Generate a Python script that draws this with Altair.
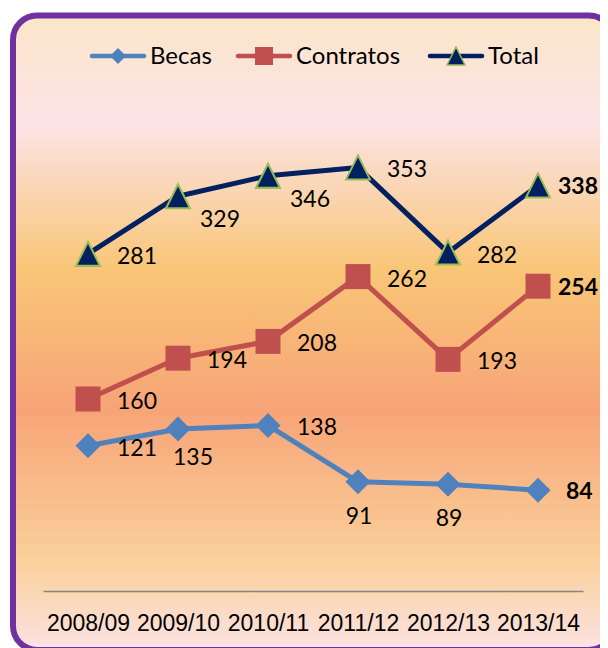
import altair as alt
import pandas as pd

# ---- data ----
years = ["2008/09", "2009/10", "2010/11", "2011/12", "2012/13", "2013/14"]
series_names = ["Becas", "Contratos", "Total"]
becas = [121, 135, 138, 91, 89, 84]
contratos = [160, 194, 208, 262, 193, 254]
total = [281, 329, 346, 353, 282, 338]

# ---- styles ----
colors = ["#4F81BD", "#C0504D", "#002060"]
TRI = "M0,-1L1,1L-1,1Z"
marker_shapes = ["diamond", "square", TRI]
marker_sizes_legend = [256, 324, 324]
# legend item layout (pixels, relative to the plot origin)
legend_line_x = [47, 193, 385]
legend_line_len = 56
legend_label_gap = 4
legend_y = -55

rows = []
for name, vals in zip(series_names, [becas, contratos, total]):
    for yr, v in zip(years, vals):
        rows.append({"year": yr, "series": name, "value": v})
df = pd.DataFrame(rows)

color_scale = alt.Scale(domain=series_names, range=colors)

x_enc = alt.X(
    "year:N",
    sort=years,
    axis=alt.Axis(
        title=None,
        labelAngle=0,
        labelFont="Liberation Sans",
        labelFontSize=23,
        labelColor="#000000",
        labelPadding=21,
        ticks=False,
        tickSize=0,
        domainColor="#868686",
        domainWidth=1.5,
        grid=False,
        labelOverlap=False,
        zindex=1,
    ),
)
y_enc = alt.Y("value:Q", scale=alt.Scale(domain=[0, 400], nice=False), axis=None)

base = alt.Chart(df).encode(x=x_enc, y=y_enc)

# background panel with gradient and purple rounded border
bg = alt.Chart(alt.Data(values=[{"k": 0}])).mark_rect(
    fill=alt.LinearGradient(
        gradient="linear",
        x1=0, x2=0, y1=0, y2=1,
        stops=[
            alt.GradientStop(color="#FBE6C9", offset=0.0),
            alt.GradientStop(color="#FCE3E6", offset=0.17),
            alt.GradientStop(color="#F9C677", offset=0.40),
            alt.GradientStop(color="#F7A477", offset=0.62),
            alt.GradientStop(color="#FAD09B", offset=0.86),
            alt.GradientStop(color="#FCE3E4", offset=1.0),
        ],
    ),
    stroke="#7030A0",
    strokeWidth=6,
    cornerRadius=24,
).encode(x=alt.value(-30), x2=alt.value(570), y=alt.value(-95.5), y2=alt.value(539))

lines = base.mark_line(strokeWidth=5, strokeJoin="round").encode(
    stroke=alt.Stroke("series:N", scale=color_scale, legend=None),
    detail="series:N",
)

points = base.mark_point(filled=True, opacity=1, size=625, strokeWidth=0).encode(
    color=alt.Color("series:N", scale=color_scale, legend=None),
    shape=alt.Shape(
        "series:N",
        scale=alt.Scale(domain=series_names, range=marker_shapes),
        legend=None,
    ),
)

tri_outline = base.transform_filter(
    f"datum.series == '{series_names[2]}'"
).mark_point(
    filled=True, shape=TRI, size=576, fill=colors[2], stroke="#9BBB59",
    strokeWidth=2, opacity=1,
)

is_becas = f"datum.series == '{series_names[0]}'"
last_c = f"datum.year == '{years[5]}'"
last_wide_c = f"{last_c} && !({is_becas})"
last_becas_c = f"{last_c} && {is_becas}"
br_c = (f"datum.series == '{series_names[2]}' && "
        f"(datum.year == '{years[1]}' || datum.year == '{years[2]}')")
b135_c = f"{is_becas} && datum.year == '{years[1]}'"
below_c = (f"{is_becas} && "
           f"(datum.year == '{years[3]}' || datum.year == '{years[4]}')")
right_c = f"!({last_c}) && !({br_c}) && !({b135_c}) && !({below_c})"


def labels(cond, dx, dy, align="left", weight="normal"):
    return base.transform_filter(cond).mark_text(
        align=align, baseline="middle", dx=dx, dy=dy, font="Lato",
        fontSize=23, fontWeight=weight, color="#000000",
    ).encode(text="value:Q")


# ---- legend (line + marker + label), built from the series names ----
legend_layers = []
for i, name in enumerate(series_names):
    ldata = alt.Data(values=[{"label": name}])
    x0 = legend_line_x[i]
    x1 = x0 + legend_line_len
    xm = (x0 + x1) / 2
    legend_layers.append(
        alt.Chart(ldata).mark_rule(
            color=colors[i], strokeWidth=4.5, strokeCap="round"
        ).encode(x=alt.value(x0 + 2), x2=alt.value(x1 - 2), y=alt.value(legend_y))
    )
    pt_kwargs = dict(filled=True, shape=marker_shapes[i], size=marker_sizes_legend[i],
                     fill=colors[i], opacity=1, strokeWidth=0)
    if name == series_names[2]:
        pt_kwargs.update(stroke="#9BBB59", strokeWidth=1.5)
    legend_layers.append(
        alt.Chart(ldata).mark_point(**pt_kwargs).encode(
            x=alt.value(xm), y=alt.value(legend_y)
        )
    )
    legend_layers.append(
        alt.Chart(ldata).mark_text(
            align="left", baseline="middle", font="Lato", fontSize=24,
            color="#000000", dy=1,
        ).encode(
            x=alt.value(x1 + legend_label_gap), y=alt.value(legend_y), text="label:N"
        )
    )

chart = alt.layer(
    bg,
    lines,
    points,
    tri_outline,
    labels(right_c, 29, 3),
    labels(br_c, 22, 24),
    labels(b135_c, 15, 29, align="center"),
    labels(below_c, 1, 35, align="center"),
    labels(last_wide_c, 20, 2, weight="bold"),
    labels(last_becas_c, 28, 2, weight="bold"),
    *legend_layers,
).properties(
    width=540,
    height=480,
    padding={"left": 35, "top": 103, "right": 17, "bottom": 57},
    autosize=alt.AutoSizeParams(type="none"),
    background="#FFFFFF",
).configure_view(stroke="transparent")

chart.save("out.html", embed_options={"renderer": "svg", "actions": False})
